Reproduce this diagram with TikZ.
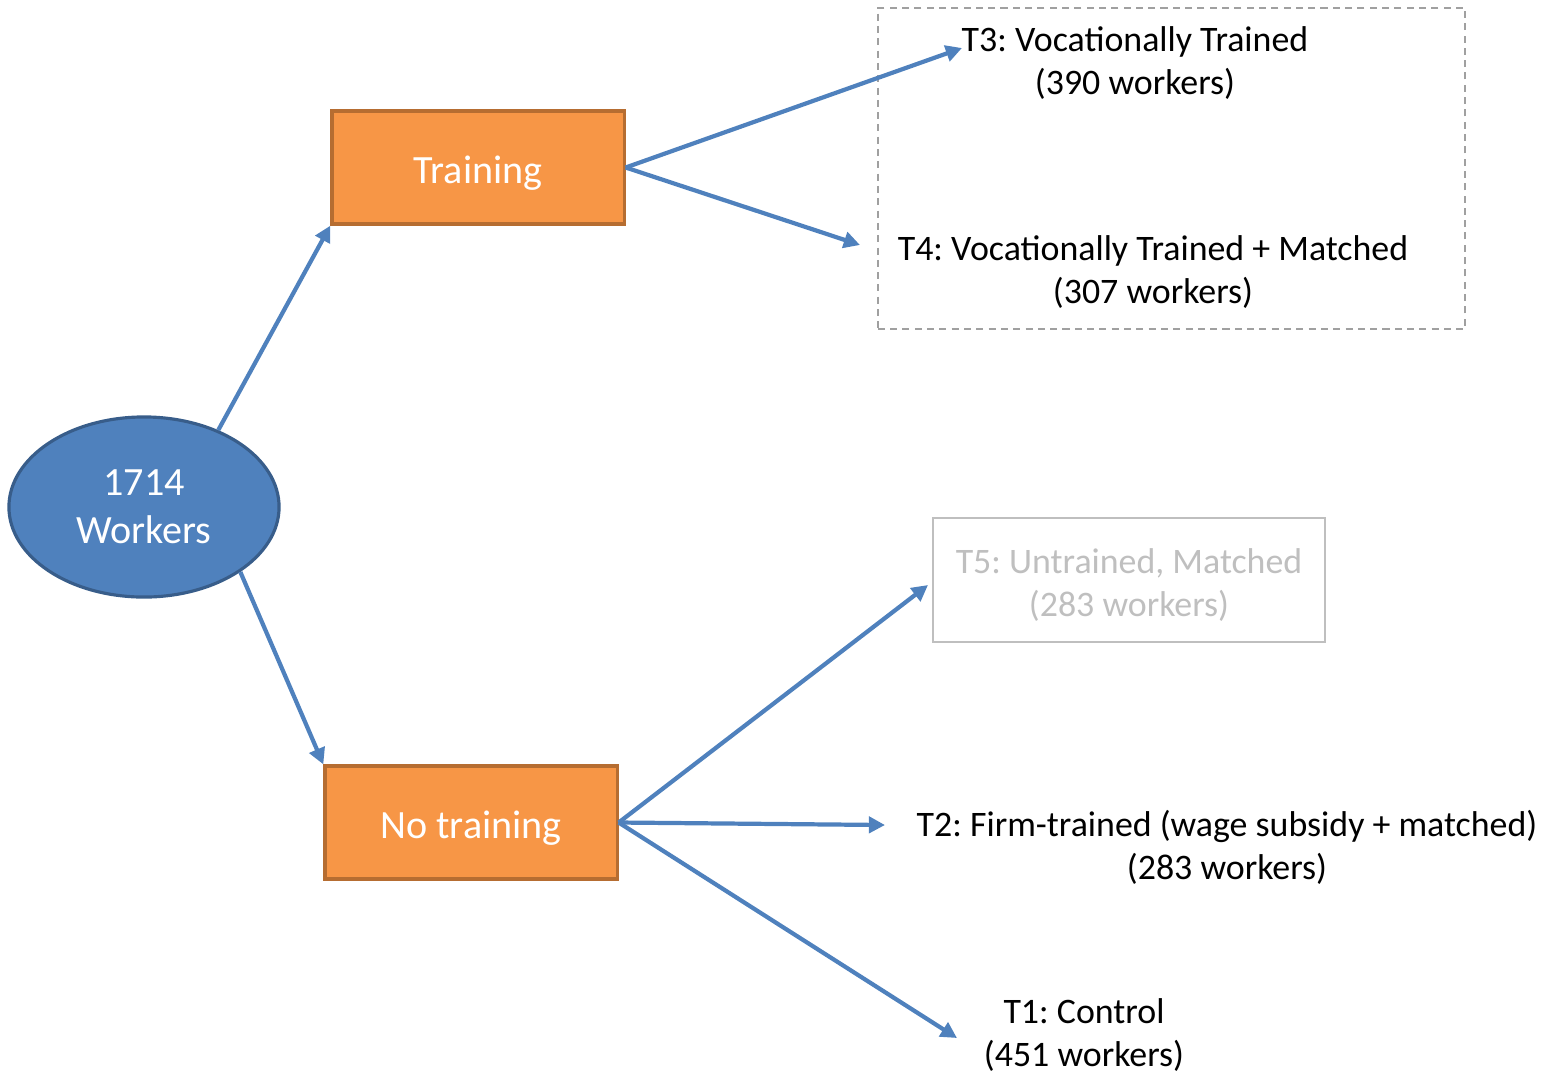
\documentclass[tikz,border=0pt]{standalone}
\usepackage{fontspec}
\setmainfont{Carlito}
\frenchspacing
\usetikzlibrary{arrows.meta, shapes.geometric}

\definecolor{flowblue}{HTML}{4F81BD}
\definecolor{flowblueline}{HTML}{385D8A}
\definecolor{armorange}{HTML}{F79646}
\definecolor{armorangeline}{HTML}{B66D31}
\definecolor{groupgray}{HTML}{A0A0A0}
\definecolor{fadedgray}{HTML}{BFBFBF}

\tikzset{
  bigtext/.style={font=\fontsize{11.4}{13.7}\selectfont, align=center},
  smalltext/.style={font=\fontsize{10.2}{12.2}\selectfont, align=center, inner sep=0pt},
  armbox/.style={bigtext, draw=armorangeline, fill=armorange, text=white,
                 line width=0.9pt, minimum width=2.92cm, minimum height=1.13cm,
                 text height=0.9em, text depth=0pt},
  flow/.style={draw=flowblue, line width=1.2pt, -{Triangle[length=4.6pt,width=4.6pt]}}
}

\begin{document}
\begin{tikzpicture}[x=0.01cm, y=-0.01cm]
        \useasboundingbox (0,0) rectangle (1552,1072);
        \node[ellipse, bigtext, draw=flowblueline, fill=flowblue, text=white,
              line width=0.9pt, minimum width=2.70cm, minimum height=1.80cm]
              (workers) at (144,507) {1714\\Workers};
        \node[armbox] (training) at (478,167.5) {Training};
        \node[armbox] (notraining) at (471,822.5) {No training};
        \node[draw=groupgray, dashed, dash pattern=on 2pt off 1.5pt, line width=0.6pt,
              minimum width=5.87cm, minimum height=3.21cm] (group) at (1171.5,168.5) {};
        \node[smalltext] (t3) at (1135,63) {T3: Vocationally Trained\\(390 workers)};
        \node[smalltext] (t4) at (1153,272) {T4: Vocationally Trained + Matched\\(307 workers)};
        \node[draw=fadedgray, line width=0.6pt,
              minimum width=3.92cm, minimum height=1.24cm] (t5) at (1129,580) {};
        \node[smalltext, text=fadedgray] (t5text) at (1129,585)
              {T5: Untrained, Matched\\(283 workers)};
        \node[smalltext] (t2) at (1227,847) {T2: Firm-trained (wage subsidy + matched)\\(283 workers)};
        \node[smalltext] (t1) at (1084,1035) {T1: Control\\(451 workers)};
        \coordinate (t3in) at (962,48);
        \coordinate (t4in) at (860,245);
        \coordinate (t5in) at (928,585);
        \coordinate (t2in) at (885,825);
        \coordinate (t1in) at (957,1038);
        \draw[flow] (workers.46) -- (training.south west);
        \draw[flow] (workers.-34) -- (notraining.north west);
        \draw[flow] (training.east) -- (t3in);
        \draw[flow] (training.east) -- (t4in);
        \draw[flow] (notraining.east) -- (t5in);
        \draw[flow] (notraining.east) -- (t2in);
        \draw[flow] (notraining.east) -- (t1in);
\end{tikzpicture}
\end{document}
